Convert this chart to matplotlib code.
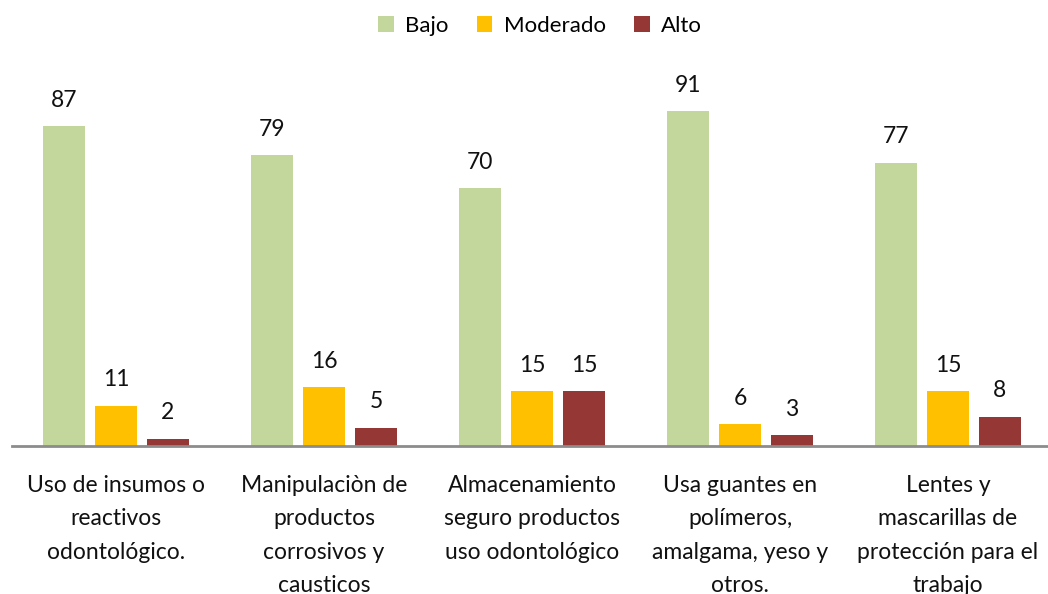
import matplotlib
matplotlib.use("Agg")
import matplotlib.pyplot as plt
import numpy as np

categories = [
    "Uso de insumos o\nreactivos\nodontológico.",
    "Manipulaciòn de\nproductos\ncorrosivos y\ncausticos",
    "Almacenamiento\nseguro productos\nuso odontológico",
    "Usa guantes en\npolímeros,\namalgama, yeso y\notros.",
    "Lentes y\nmascarillas de\nprotección para el\ntrabajo",
]
series_names = ["Bajo", "Moderado", "Alto"]
bajo = [87, 79, 70, 91, 77]
moderado = [11, 16, 15, 6, 15]
alto = [2, 5, 15, 3, 8]
colors = ["#C3D69B", "#FFC000", "#953735"]

plt.rcParams["font.family"] = ["Lato", "DejaVu Sans"]

W, H = 1048, 594
fig = plt.figure(figsize=(W / 100, H / 100), dpi=100)
left_px, right_px, bottom_px, top_px = 12, 1052, 446, 78
ax = fig.add_axes([left_px / W, 1 - bottom_px / H, (right_px - left_px) / W, (bottom_px - top_px) / H])

x = np.arange(len(categories))
width = 0.2
offsets = [-0.25, 0, 0.25]
for vals, name, col, off in zip([bajo, moderado, alto], series_names, colors, offsets):
    bars = ax.bar(x + off, vals, width, color=col, label=name)
    for b, v in zip(bars, vals):
        ax.annotate(str(v), (b.get_x() + b.get_width() / 2, v), xytext=(0, 11),
                    textcoords="offset points", ha="center", va="bottom",
                    fontsize=16.5, color="#111111")

ax.set_xlim(-0.5, len(categories) - 0.5)
ax.set_ylim(0, 100)
ax.set_yticks([])
ax.set_xticks(x)
ax.set_xticklabels(categories, fontsize=16.5, linespacing=1.72, color="#111111")
ax.tick_params(axis="x", length=0, pad=21)
for s in ["top", "right", "left"]:
    ax.spines[s].set_visible(False)
ax.spines["bottom"].set_color("#8C8C8C")
ax.spines["bottom"].set_linewidth(2)

fig.legend(loc="center", bbox_to_anchor=(540 / W, 1 - 26 / H), ncol=3, frameon=False,
           fontsize=16, handlelength=0.7, handleheight=0.7, handletextpad=0.5,
           columnspacing=1.3)

fig.savefig("out.png", dpi=100)
